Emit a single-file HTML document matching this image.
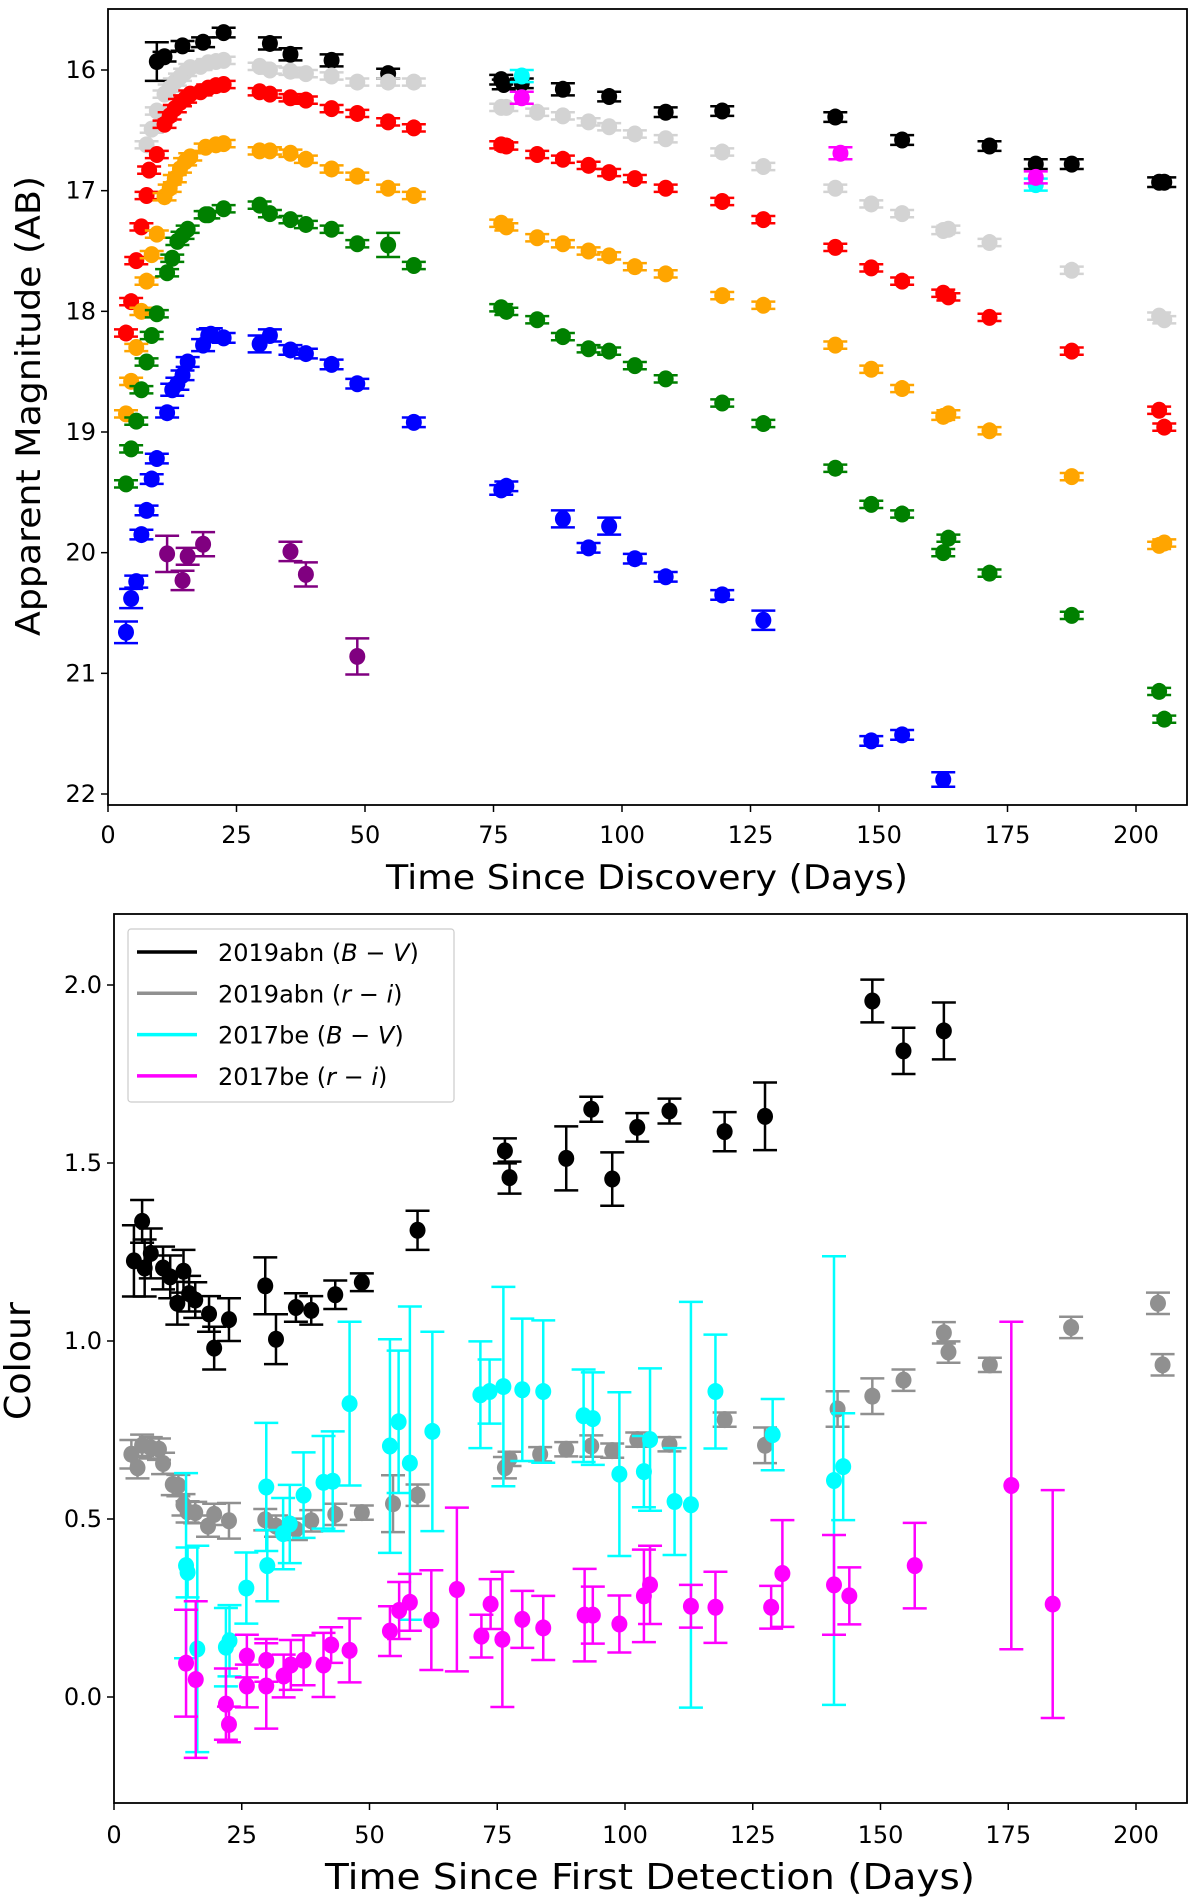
<!DOCTYPE html>
<html><head><meta charset="utf-8"><style>
html,body{margin:0;padding:0;background:#fff}
svg{display:block;font-family:"DejaVu Sans","Liberation Sans",sans-serif}
</style></head><body>
<svg id="fig" width="1200" height="1904" viewBox="0 0 1200 1904" xmlns="http://www.w3.org/2000/svg">
<rect x="0" y="0" width="1200" height="1904" fill="#fff"/>
<g id="top"></g>
<g id="bot"></g>
</svg>
<script>
// ===== Top panel data
const blackDays=[9.5,11,14.5,18.5,22.5,31.5,35.5,43.5,54.5,76.5,77,80.5,88.5,97.5,108.5,119.5,141.5,154.5,171.5,180.5,187.5,204.5,205.5];
const blackMags=[15.93,15.89,15.8,15.77,15.69,15.78,15.87,15.92,16.03,16.08,16.12,16.11,16.16,16.22,16.35,16.34,16.39,16.58,16.63,16.78,16.78,16.93,16.93];
const blackErrs=[0.16,0.04,0.04,0.04,0.04,0.05,0.05,0.05,0.04,0.04,0.04,0.04,0.05,0.04,0.04,0.04,0.04,0.04,0.04,0.04,0.04,0.04,0.04];
const lgrayDays=[7.5,8.5,9.5,11,12,13,14,15,16,18,19.5,21,22.5,29.5,31.5,35.5,38.5,43.5,48.5,54.5,59.5,76.5,77.5,83.5,88.5,93.5,97.5,102.5,108.5,119.5,127.5,141.5,148.5,154.5,162.5,163.5,171.5,187.5,204.5,205.5];
const lgrayMags=[16.62,16.49,16.34,16.2,16.15,16.1,16.06,16.02,15.98,15.97,15.94,15.93,15.92,15.97,16.0,16.01,16.03,16.05,16.1,16.1,16.1,16.31,16.31,16.35,16.38,16.43,16.47,16.53,16.57,16.68,16.8,16.98,17.11,17.19,17.33,17.32,17.43,17.66,18.04,18.07];
const redDays=[3.5,4.5,5.5,6.5,7.5,8,9.5,11,12,13,14,15,16,18,19.5,21,22.5,29.5,31.5,35.5,38.5,43.5,48.5,54.5,59.5,76.5,77.5,83.5,88.5,93.5,97.5,102.5,108.5,119.5,127.5,141.5,148.5,154.5,162.5,163.5,171.5,187.5,204.5,205.5];
const redMags=[18.18,17.92,17.58,17.3,17.04,16.83,16.7,16.45,16.38,16.32,16.27,16.24,16.2,16.18,16.15,16.13,16.12,16.18,16.2,16.23,16.25,16.32,16.36,16.43,16.48,16.62,16.63,16.7,16.74,16.79,16.85,16.9,16.98,17.09,17.24,17.47,17.64,17.75,17.85,17.88,18.05,18.33,18.82,18.96];
const orangeDays=[3.5,4.5,5.5,6.5,7.5,8.5,9.5,11,12,13,14,15,16,19,21,22.5,29.5,31.5,35.5,38.5,43.5,48.5,54.5,59.5,76.5,77.5,83.5,88.5,93.5,97.5,102.5,108.5,119.5,127.5,141.5,148.5,154.5,162.5,163.5,171.5,187.5,204.5,205.5];
const orangeMags=[18.85,18.58,18.3,18.0,17.75,17.53,17.36,17.05,16.98,16.9,16.82,16.76,16.72,16.64,16.62,16.61,16.67,16.67,16.69,16.74,16.82,16.88,16.98,17.04,17.27,17.3,17.39,17.44,17.5,17.54,17.63,17.69,17.87,17.95,18.28,18.48,18.64,18.87,18.85,18.99,19.37,19.94,19.92];
const greenDays=[3.5,4.5,5.5,6.5,7.5,8.5,9.5,11.5,12.5,13.5,14.5,15.5,19,19.5,22.5,29.5,31.5,35.5,38.5,43.5,48.5,54.5,59.5,76.5,77.5,83.5,88.5,93.5,97.5,102.5,108.5,119.5,127.5,141.5,148.5,154.5,162.5,163.5,171.5,187.5,204.5,205.5];
const greenMags=[19.43,19.14,18.91,18.65,18.42,18.2,18.02,17.68,17.56,17.42,17.37,17.32,17.2,17.2,17.15,17.12,17.19,17.24,17.28,17.32,17.44,17.45,17.62,17.97,18.0,18.07,18.21,18.31,18.33,18.45,18.56,18.76,18.93,19.3,19.6,19.68,20.0,19.88,20.17,20.52,21.15,21.38];
const greenErrs=[0.03,0.03,0.03,0.03,0.03,0.03,0.03,0.03,0.03,0.03,0.03,0.03,0.03,0.03,0.03,0.03,0.03,0.03,0.03,0.03,0.03,0.1,0.03,0.03,0.03,0.03,0.03,0.03,0.03,0.03,0.03,0.03,0.03,0.03,0.03,0.03,0.03,0.03,0.03,0.03,0.03,0.03];
const blueDays=[3.5,4.5,5.5,6.5,7.5,8.5,9.5,11.5,12.5,13.5,14.5,15.5,18.5,19.5,20,22.5,29.5,31.5,35.5,38.5,43.5,48.5,59.5,76.5,77.5,88.5,93.5,97.5,102.5,108.5,119.5,127.5,148.5,154.5,162.5];
const blueMags=[20.66,20.38,20.24,19.85,19.65,19.39,19.22,18.84,18.65,18.6,18.53,18.42,18.28,18.2,18.19,18.22,18.27,18.2,18.32,18.35,18.44,18.6,18.92,19.48,19.45,19.72,19.96,19.78,20.05,20.2,20.35,20.56,21.56,21.51,21.88];
const blueErrs=[0.09,0.08,0.05,0.04,0.04,0.04,0.04,0.04,0.05,0.05,0.04,0.04,0.05,0.05,0.05,0.04,0.07,0.05,0.04,0.04,0.04,0.04,0.04,0.04,0.04,0.07,0.04,0.07,0.04,0.04,0.04,0.08,0.04,0.04,0.06];
const purpleDays=[11.5,14.5,15.5,18.5,35.5,38.5,48.5];
const purpleMags=[20.01,20.23,20.03,19.93,19.99,20.18,20.86];
const purpleErrs=[0.15,0.08,0.07,0.1,0.08,0.1,0.15];
const cyanDays=[80.5,180.5];
const cyanMags=[16.05,16.95];
const magentaDays=[80.5,142.5,180.5];
const magentaMags=[16.23,16.69,16.89];
const topXTicks=[0,25,50,75,100,125,150,175,200];
const topYTicks=[16,17,18,19,20,21,22];

// ===== Bottom panel data
const bvDays=[3.9,5.5,6,7.2,9.6,11,13.6,12.4,14.7,15.9,18.6,19.6,22.5,29.6,31.7,35.6,38.6,43.3,48.5,59.4,76.5,77.4,88.5,93.4,97.5,102.4,108.7,119.5,127.4,148.4,154.5,162.4];
const bvVals=[1.225,1.336,1.205,1.246,1.205,1.18,1.196,1.106,1.133,1.115,1.076,0.98,1.06,1.155,1.005,1.094,1.086,1.13,1.165,1.311,1.534,1.459,1.513,1.651,1.455,1.6,1.646,1.588,1.631,1.955,1.815,1.871];
const bvErrs=[0.1,0.06,0.08,0.07,0.06,0.06,0.06,0.06,0.05,0.05,0.05,0.06,0.06,0.08,0.07,0.04,0.04,0.04,0.025,0.055,0.035,0.045,0.09,0.035,0.075,0.04,0.035,0.055,0.095,0.06,0.065,0.08];
const riDays=[3.4,4.6,5.5,7.2,8.8,9.6,11.5,12.6,13.6,14.4,15.9,18.4,19.6,22.5,29.6,31.7,35.6,38.6,43.3,48.5,54.6,59.4,76.5,77.4,83.4,88.5,93.4,97.5,102.4,108.7,119.5,127.4,141.6,148.4,154.5,162.4,163.3,171.4,187.3,204.3,205.2];
const riVals=[0.682,0.644,0.707,0.7,0.696,0.656,0.597,0.594,0.54,0.52,0.518,0.48,0.513,0.495,0.498,0.48,0.471,0.495,0.513,0.518,0.543,0.567,0.644,0.669,0.682,0.696,0.705,0.692,0.723,0.71,0.779,0.707,0.809,0.845,0.89,1.023,0.969,0.933,1.038,1.106,0.933];
const riErrs=[0.04,0.03,0.03,0.03,0.03,0.03,0.03,0.03,0.03,0.03,0.03,0.03,0.03,0.05,0.03,0.03,0.03,0.03,0.03,0.02,0.08,0.03,0.03,0.02,0.02,0.02,0.03,0.02,0.02,0.02,0.02,0.05,0.05,0.05,0.03,0.03,0.03,0.02,0.03,0.03,0.03];
const cBvDays=[14.1,14.4,16.3,21.9,22.6,25.9,29.8,30,33.1,34.4,37.1,41,42.8,46.1,54,55.7,57.9,62.3,71.7,73.5,76.2,79.9,84,91.9,93.7,98.9,103.7,104.9,109.7,112.9,117.7,128.9,140.9,142.7];
const cBvVals=[0.369,0.35,0.135,0.14,0.158,0.306,0.59,0.369,0.459,0.486,0.567,0.603,0.606,0.824,0.705,0.773,0.657,0.746,0.849,0.858,0.872,0.863,0.858,0.79,0.782,0.626,0.633,0.723,0.549,0.54,0.858,0.737,0.608,0.647];
const cBvErrs=[0.26,0.07,0.29,0.11,0.1,0.1,0.18,0.1,0.1,0.11,0.12,0.13,0.14,0.23,0.3,0.2,0.44,0.28,0.15,0.09,0.28,0.2,0.2,0.13,0.13,0.23,0.1,0.2,0.15,0.57,0.16,0.1,0.63,0.15];
const mRiDays=[14.1,16,21.9,22.5,26,26,29.8,29.8,33.2,34.6,37.1,41,42.5,46.1,54,55.8,57.9,62.1,67.1,71.9,73.7,76,79.9,84,92.1,93.7,98.9,103.7,104.9,112.9,117.7,128.6,130.8,140.9,143.9,156.7,175.6,183.7];
const mRiVals=[0.095,0.049,-0.02,-0.077,0.115,0.031,0.103,0.031,0.059,0.09,0.103,0.09,0.146,0.131,0.185,0.243,0.266,0.216,0.302,0.171,0.261,0.162,0.218,0.194,0.23,0.23,0.205,0.284,0.315,0.255,0.252,0.252,0.347,0.315,0.284,0.369,0.594,0.261];
const mRiErrs=[0.15,0.22,0.1,0.05,0.06,0.06,0.06,0.12,0.06,0.07,0.07,0.09,0.05,0.09,0.07,0.08,0.08,0.14,0.23,0.06,0.07,0.19,0.08,0.09,0.13,0.08,0.08,0.13,0.11,0.06,0.1,0.06,0.15,0.14,0.08,0.12,0.46,0.32];
const botXTicks=[0,25,50,75,100,125,150,175,200];
const botYTicks=[0.0,0.5,1.0,1.5,2.0];
const legendLabels=["2019abn","2019abn","2017be","2017be"];

const NS="http://www.w3.org/2000/svg";
function mk(tag,attrs,parent){const e=document.createElementNS(NS,tag);for(const k in attrs)e.setAttribute(k,attrs[k]);parent.appendChild(e);return e;}

const tx=d=>108+d*(1136-108)/200;
const ty=m=>70+(m-16)*(794-70)/6;
const bx=d=>114+d*(1136-114)/200;
const by=v=>1697-v*(1697-985)/2;

function series(g,days,vals,errs,color,xf,yf,name,defErr){
  for(let i=0;i<days.length;i++){
    const x=xf(days[i]),y=yf(vals[i]);
    const e=errs?errs[i]:defErr;
    const y1=yf(vals[i]-e),y2=yf(vals[i]+e);
    const eg=mk('g',{},g);
    
    
    mk('line',{x1:x,x2:x,y1:y1,y2:y2,stroke:color,'stroke-width':2.5},eg);
    mk('line',{x1:x-12,x2:x+12,y1:y1,y2:y1,stroke:color,'stroke-width':2.5},eg);
    mk('line',{x1:x-12,x2:x+12,y1:y2,y2:y2,stroke:color,'stroke-width':2.5},eg);
    mk('ellipse',{cx:x,cy:y,rx:8,ry:8.5,fill:color},eg);
  }
}

function frame(g,x0,y0,x1,y1,name){
  const r=mk('rect',{x:x0,y:y0,width:x1-x0,height:y1-y0,fill:'none',stroke:'#000','stroke-width':1.8},g);
  
  
}

const T=document.getElementById('top');
series(T,blackDays,blackMags,blackErrs,'#000000',tx,ty,'black-band',0.04);
series(T,lgrayDays,lgrayMags,null,'#d3d3d3',tx,ty,'lightgray-band',0.03);
series(T,redDays,redMags,null,'#ff0000',tx,ty,'red-band',0.03);
series(T,orangeDays,orangeMags,null,'#ffa500',tx,ty,'orange-band',0.03);
series(T,greenDays,greenMags,greenErrs,'#008000',tx,ty,'green-band',0.03);
series(T,blueDays,blueMags,blueErrs,'#0000ff',tx,ty,'blue-band',0.04);
series(T,purpleDays,purpleMags,purpleErrs,'#800080',tx,ty,'purple-band',0.08);
series(T,cyanDays,cyanMags,null,'#00ffff',tx,ty,'cyan-band',0.05);
series(T,magentaDays,magentaMags,null,'#ff00ff',tx,ty,'magenta-band',0.05);
frame(T,108,9,1187,805,'top-plot-frame');
topXTicks.forEach(v=>{
  const x=tx(v);
  mk('line',{x1:x,x2:x,y1:805,y2:812,stroke:'#000','stroke-width':1.5},T);
  const t=mk('text',{x:x,y:843,'font-size':24,'text-anchor':'middle'},T);
  t.textContent=v;
  
  
});
topYTicks.forEach(v=>{
  const y=ty(v);
  mk('line',{x1:101,x2:108,y1:y,y2:y,stroke:'#000','stroke-width':1.5},T);
  const t=mk('text',{x:96,y:y+8,'font-size':24,'text-anchor':'end'},T);
  t.textContent=v;
  
  
});
{
  const t=mk('text',{x:647,y:889,'font-size':34,'text-anchor':'middle',textLength:522,lengthAdjust:'spacingAndGlyphs'},T);
  t.textContent='Time Since Discovery (Days)';
  
  
  const t2=mk('text',{x:0,y:0,'font-size':34,'text-anchor':'middle',textLength:460,lengthAdjust:'spacingAndGlyphs',transform:'translate(40,406) rotate(-90)'},T);
  t2.textContent='Apparent Magnitude (AB)';
  
  
}

const B=document.getElementById('bot');
series(B,bvDays,bvVals,bvErrs,'#000000',bx,by,'2019abn-b-v',0.05);
series(B,riDays,riVals,riErrs,'#909090',bx,by,'2019abn-r-i',0.03);
series(B,cBvDays,cBvVals,cBvErrs,'#00ffff',bx,by,'2017be-b-v',0.1);
series(B,mRiDays,mRiVals,mRiErrs,'#ff00ff',bx,by,'2017be-r-i',0.1);
frame(B,114,914,1187,1803,'bottom-plot-frame');
botXTicks.forEach(v=>{
  const x=bx(v);
  mk('line',{x1:x,x2:x,y1:1803,y2:1810,stroke:'#000','stroke-width':1.5},B);
  const t=mk('text',{x:x,y:1843,'font-size':24,'text-anchor':'middle'},B);
  t.textContent=v;
  
  
});
botYTicks.forEach(v=>{
  const y=by(v);
  mk('line',{x1:107,x2:114,y1:y,y2:y,stroke:'#000','stroke-width':1.5},B);
  const t=mk('text',{x:102,y:y+8,'font-size':24,'text-anchor':'end'},B);
  t.textContent=v.toFixed(1);
  
  
});
{
  const t=mk('text',{x:650,y:1889,'font-size':36,'text-anchor':'middle',textLength:650,lengthAdjust:'spacingAndGlyphs'},B);
  t.textContent='Time Since First Detection (Days)';
  
  
  const t2=mk('text',{x:0,y:0,'font-size':36,'text-anchor':'middle',textLength:118,lengthAdjust:'spacingAndGlyphs',transform:'translate(30,1361) rotate(-90)'},B);
  t2.textContent='Colour';
  
  
}
const L=mk('g',{},B);


mk('rect',{x:128,y:929,width:326,height:173,rx:3,fill:'#fff',stroke:'#cccccc','stroke-width':1.2},L);
const legColors=['#000000','#909090','#00ffff','#ff00ff'];
const legBands=[['B','V'],['r','i'],['B','V'],['r','i']];
legendLabels.forEach((lab,i)=>{
  const y=952+i*41.3;
  const ln=mk('line',{x1:137,x2:197,y1:y,y2:y,stroke:legColors[i],'stroke-width':3.5},L);
  
  
  const t=mk('text',{x:218,y:y+9,'font-size':24},L);
  
  
  const s1=mk('tspan',{},t); s1.textContent=lab+' (';
  const s2=mk('tspan',{'font-style':'italic'},t); s2.textContent=legBands[i][0];
  const s3=mk('tspan',{},t); s3.textContent=' \u2212 ';
  const s4=mk('tspan',{'font-style':'italic'},t); s4.textContent=legBands[i][1];
  const s5=mk('tspan',{},t); s5.textContent=')';
});
</script>
</body></html>
